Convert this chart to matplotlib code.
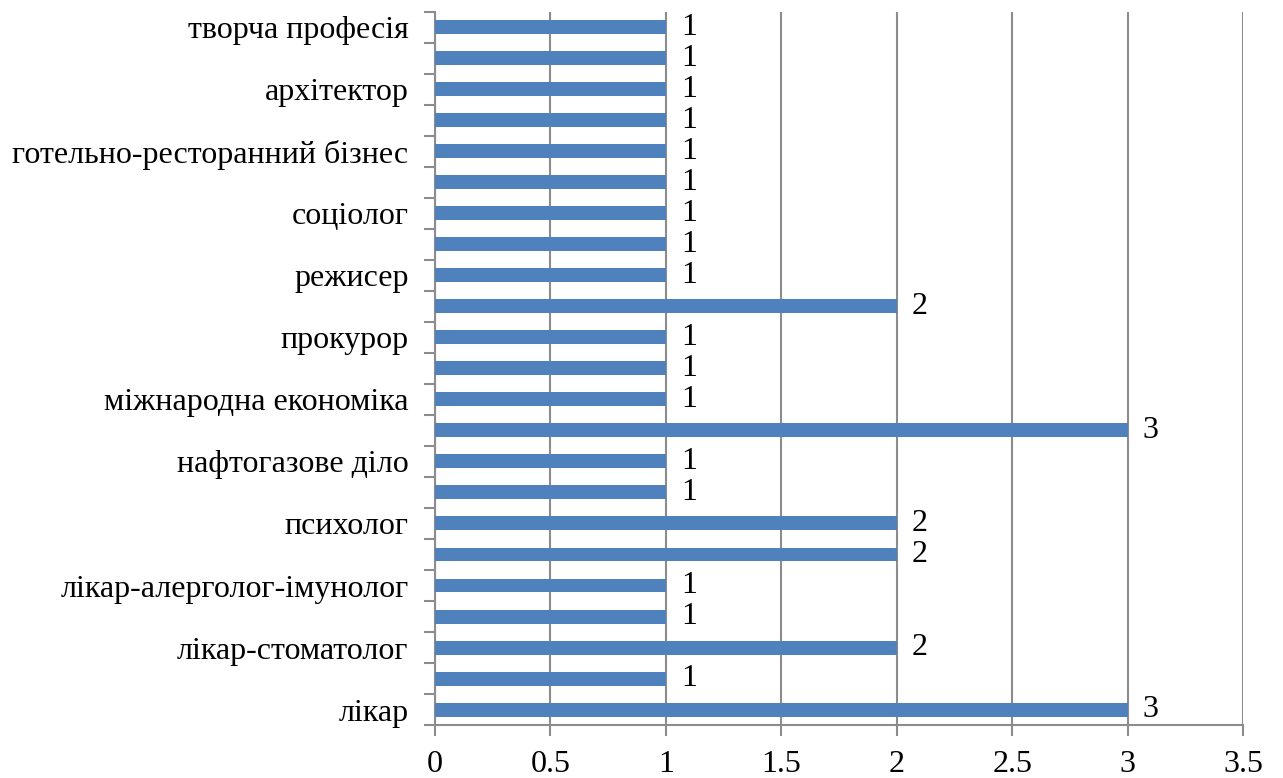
import matplotlib.pyplot as plt
import numpy as np

# categories from bottom to top; blank names are hidden in the original (every other label shown)
categories = ["лікар", "", "лікар-стоматолог", "", "лікар-алерголог-імунолог", "",
              "психолог", "", "нафтогазове діло", "", "міжнародна економіка", "",
              "прокурор", "", "режисер", "", "соціолог", "", "готельно-ресторанний бізнес", "",
              "архітектор", "", "творча професія"]
values = [3, 1, 2, 1, 1, 2, 2, 1, 1, 3, 1, 1, 1, 2, 1, 1, 1, 1, 1, 1, 1, 1, 1]
x_ticks = [0, 0.5, 1, 1.5, 2, 2.5, 3, 3.5]
x_tick_labels = ["0", "0.5", "1", "1.5", "2", "2.5", "3", "3.5"]

plt.rcParams['font.family'] = ['Liberation Serif', 'DejaVu Serif']

fig = plt.figure(figsize=(12.83, 7.78), dpi=100)
ax = fig.add_axes([0.339, 0.068, 0.630, 0.917])

pos = np.arange(len(values))
ax.barh(pos, values, height=0.45, color='#4F81BD', zorder=3)

for p, v in zip(pos, values):
    ax.text(v + 0.065, p, str(v), va='center', ha='left', fontsize=23, zorder=4)

ax.set_xlim(0, 3.5)
ax.set_ylim(-0.5, len(values) - 0.5)
ax.set_xticks(x_ticks)
ax.set_xticklabels(x_tick_labels, fontsize=23)

ax.set_yticks(pos)
ax.set_yticklabels(categories, fontsize=23)
ax.set_yticks(np.arange(-0.5, len(values), 1.0), minor=True)
ax.tick_params(axis='y', which='major', length=0, pad=19)
ax.tick_params(axis='y', which='minor', length=8, width=1.5, color='#8c8c8c', direction='out')
ax.tick_params(axis='x', length=8, width=1.5, color='#8c8c8c', direction='out', pad=10)

ax.grid(axis='x', color='#8c8c8c', linewidth=1.5, zorder=0)
for s in ['top', 'right']:
    ax.spines[s].set_visible(False)
for s in ['left', 'bottom']:
    ax.spines[s].set_color('#8c8c8c')
    ax.spines[s].set_linewidth(1.5)

fig.savefig('out.png')
